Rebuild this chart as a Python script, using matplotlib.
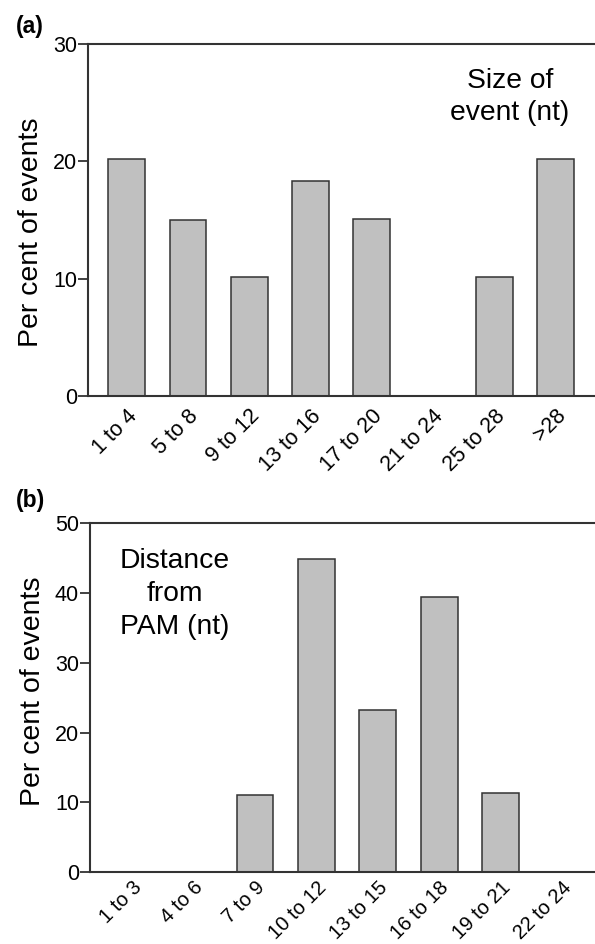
import matplotlib
matplotlib.use('Agg')
import matplotlib.pyplot as plt
import matplotlib.transforms as mtransforms

plt.rcParams['font.family'] = ['Liberation Sans', 'DejaVu Sans']

# panel (a) - size of event
size_labels = ['1 to 4', '5 to 8', '9 to 12', '13 to 16', '17 to 20', '21 to 24', '25 to 28', '>28']
size_pct = [20.2, 15.0, 10.1, 18.3, 15.1, 0, 10.1, 20.2]

# panel (b) - distance from PAM
dist_labels = ['1 to 3', '4 to 6', '7 to 9', '10 to 12', '13 to 15', '16 to 18', '19 to 21', '22 to 24']
dist_pct = [0, 0, 11.1, 44.9, 23.2, 39.4, 11.3, 0]

W, H = 595, 944
fig = plt.figure(figsize=(W / 100, H / 100), dpi=100)

def make_ax(left, right, top, bottom):
    return fig.add_axes([left / W, 1 - bottom / H, (right - left) / W, (bottom - top) / H])

ax1 = make_ax(88, 596, 44.3, 395.7)
ax2 = make_ax(90, 596, 523.3, 872)

edge = '#333333'

def style(ax, labels, values, ymax, yticks, xlim, ylab_y, shift, xfs, xpad):
    x = range(len(labels))
    ax.bar(x, values, width=0.6, color='#c0c0c0', edgecolor=edge, linewidth=1.1, zorder=2)
    ax.set_xlim(*xlim)
    ax.set_ylim(0, ymax)
    ax.set_yticks(yticks)
    ax.set_yticklabels([str(t) for t in yticks], fontsize=15.5)
    ax.set_xticks(list(x))
    ax.set_xticklabels(labels, fontsize=xfs, rotation=45, ha='right', va='top',
                       rotation_mode='anchor')
    offset = mtransforms.ScaledTranslation(shift / 100, 0, fig.dpi_scale_trans)
    for lab in ax.get_xticklabels():
        lab.set_transform(lab.get_transform() + offset)
    ax.tick_params(axis='x', length=0, pad=xpad)
    ax.tick_params(axis='y', length=7, width=1.3, color=edge, pad=1)
    for s in ['left', 'bottom', 'top']:
        ax.spines[s].set_color(edge)
        ax.spines[s].set_linewidth(1.5)
    ax.spines['right'].set_visible(False)
    ax.set_ylabel('Per cent of events', fontsize=20.5)
    ax.yaxis.set_label_coords(-44 / ax.bbox.width, ylab_y)

style(ax1, size_labels, size_pct, 30, [0, 10, 20, 30], (-0.634, 7.66), 0.466, 22, 15.5, 7)
style(ax2, dist_labels, dist_pct, 50, [0, 10, 20, 30, 40, 50], (-0.687, 7.55), 0.518, 20, 14.5, 4)

ax1.text(510 / W, 1 - 97 / H, 'Size of\nevent (nt)', transform=fig.transFigure,
         ha='center', va='center', fontsize=20.3, linespacing=1.35)
ax2.text(175 / W, 1 - 594 / H, 'Distance\nfrom\nPAM (nt)', transform=fig.transFigure,
         ha='center', va='center', fontsize=20.3, linespacing=1.35)

fig.text(16 / W, 1 - 27 / H, '(a)', fontsize=16.5, fontweight='bold', va='center', ha='left')
fig.text(16 / W, 1 - 500 / H, '(b)', fontsize=16.5, fontweight='bold', va='center', ha='left')

fig.savefig('out.png', dpi=100, facecolor='white')
